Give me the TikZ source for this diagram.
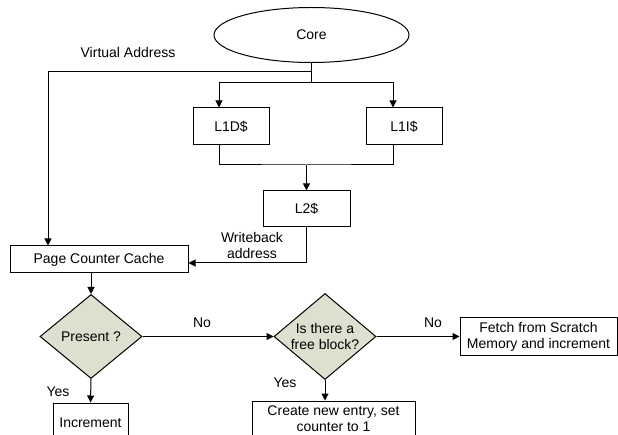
\documentclass[tikz,border=0pt]{standalone}
\usepackage{fontspec}
\setmainfont{Liberation Sans}
\usetikzlibrary{shapes.geometric,arrows.meta}
\definecolor{decisiongreen}{RGB}{221,224,206}
\begin{document}
\begin{tikzpicture}[x=1pt, y=-1pt,
        font=\fontsize{14}{16}\selectfont,
        line width=1pt,
        arr/.style={-{Triangle[length=7pt,width=7pt]}},
        box/.style={draw, rectangle, inner sep=0pt, align=center},
        decision/.style={draw, diamond, fill=decisiongreen, inner sep=0pt}]
        \useasboundingbox (0,0) rectangle (618,435);
        \clip (0,0) rectangle (618,435);

        % Core and the caches
        \node [draw, ellipse, minimum width=195pt, minimum height=55pt, inner sep=0pt] (core) at (311.5,35) {Core};
        \node [box, minimum width=76pt, minimum height=37pt] (l1d) at (231,126.5) {L1D\$};
        \node [box, minimum width=76pt, minimum height=37pt] (l1i) at (404,126.5) {L1I\$};
        \node [box, minimum width=87pt, minimum height=36pt] (l2) at (306.5,209) {L2\$};
        \node [box, minimum width=178pt, minimum height=27pt] (pcc) at (99,259.5) {Page Counter Cache};

        % Decisions and outcomes
        \node [decision, minimum width=102pt, minimum height=84pt, label=center:Present ?] (present) at (91,336.5) {};
        \node [decision, minimum width=102pt, minimum height=86pt, label={[align=center]center:Is there a\\free block?}] (free) at (325,336.5) {};
        \node [box, minimum width=157pt, minimum height=37pt] (fetch) at (538.5,336.5) {Fetch from Scratch\\Memory and increment};
        \node [box, minimum width=75pt, minimum height=40pt] (incr) at (90.5,423) {Increment};
        \node [box, minimum width=163pt, minimum height=36pt] (create) at (333.5,419) {Create new entry, set\\counter to 1};

        % Labels
        \node (va) at (128,52) {Virtual Address};
        \node [align=center] (wb) at (252,245) {Writeback\\address};
        \node (no1) at (202,323) {No};
        \node (no2) at (433,323) {No};
        \node (yes1) at (58,392) {Yes};
        \node (yes2) at (285,383) {Yes};

        \coordinate (vaturn) at (48,72);
        \coordinate (split) at (311.5,83);
        \coordinate (merge) at (306.5,165);

        % Core to caches
        \draw (core.south) -- (split);
        \draw [arr] (split) -| ([xshift=-12pt]l1d.north);
        \draw [arr] (split) -| ([xshift=-11pt]l1i.north);
        \draw [arr] (core.south |- vaturn) -- (vaturn) -- (vaturn |- pcc.north);
        \draw ([xshift=-12pt]l1d.south) |- (merge) -| ([xshift=-11pt]l1i.south);
        \draw [arr] (merge) -- (l2.north);
        \draw [arr] (l2.south) |- ([yshift=-3.5pt]pcc.east);

        % Counter lookup
        \draw [arr] (present.north |- pcc.south) -- (present.north);
        \draw [arr] (present.east) -- (free.west);
        \draw [arr] (free.east) -- (fetch.west);
        \draw [arr] (present.south) -- (incr.north);
        \draw [arr] (free.south) -- (free.south |- create.north);
\end{tikzpicture}
\end{document}
